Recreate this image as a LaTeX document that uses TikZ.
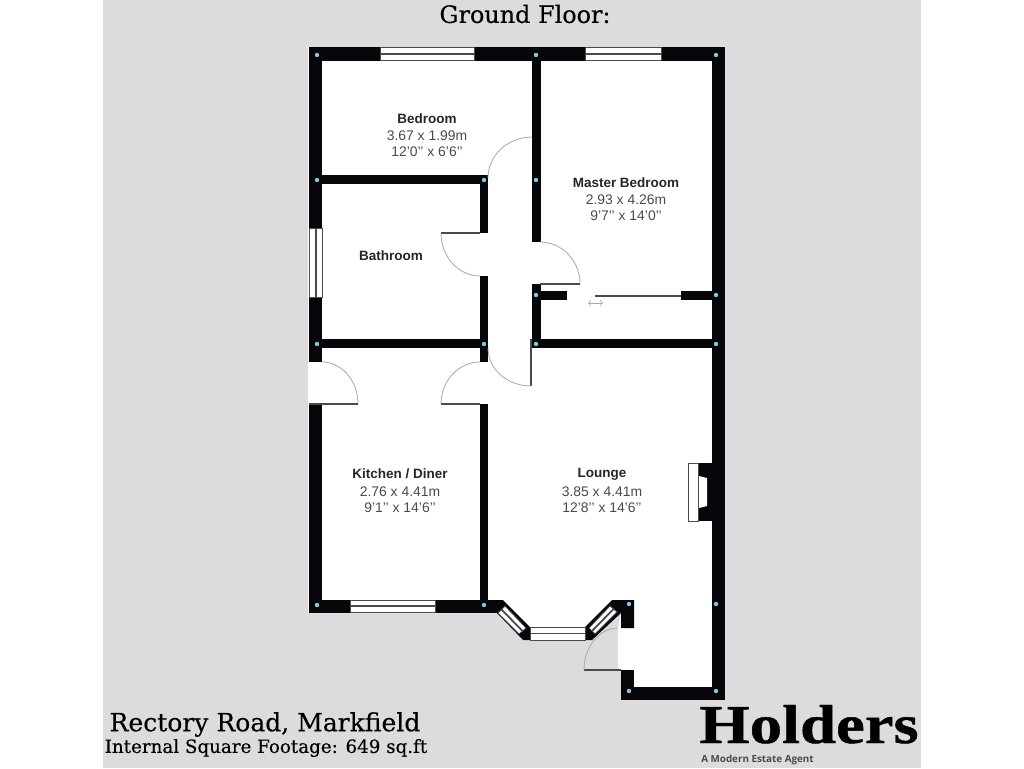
\documentclass[tikz,border=0pt]{standalone}
\usepackage{fontspec}
\setmainfont{Liberation Sans}
\newfontfamily\slabfont[FakeBold=0.35]{DejaVu Serif}
\newfontfamily\logofont[FakeStretch=1.18,FakeBold=0.8]{Liberation Serif Bold}
\newfontfamily\tagfont{Open Sans}
\usetikzlibrary{positioning}
\definecolor{pagegray}{HTML}{DEDBDF}
\definecolor{wallblack}{HTML}{05050A}
\definecolor{pillarblue}{HTML}{8CC4E0}
\definecolor{dimgray}{HTML}{4A4A4A}
\definecolor{arcgray}{HTML}{A8A8A8}
\tikzset{
  wall/.style={fill=wallblack,draw=none},
  doorarc/.style={draw=arcgray,line width=0.2mm},
  doorleaf/.style={draw=dimgray,line width=0.35mm},
  winglass/.style={fill=white,draw=dimgray,line width=0.2mm},
  winbar/.style={draw=dimgray,line width=0.45mm},
  roomname/.style={font=\fontsize{9.6}{11}\selectfont\bfseries,text=black!85,inner sep=0pt},
  roomsize/.style={font=\fontsize{9.9}{11}\selectfont,text=dimgray,inner sep=0pt},
}
\begin{document}
\begin{tikzpicture}[x=0.25mm,y=-0.25mm]
  \useasboundingbox (0,0) rectangle (1024,768);
  \fill[white] (0,0) rectangle (1024,768);
  \fill[pagegray] (103,0) rectangle (921,768);
  % floor
  \fill[white] (308,47) -- (725,47) -- (725,700) -- (621,700) -- (621,670) -- (618,670) -- (618,628)
    -- (621,613) -- (592,640) -- (523,640) -- (497,613) -- (308,613) -- cycle;
  % outer walls
  \fill[wall] (309,47) rectangle (725,60.5);
  \fill[wall] (309,47) rectangle (322,362);
  \fill[wall] (309,404) rectangle (322,613);
  \fill[wall] (712,47) rectangle (725,700);
  \fill[wall] (621,687) rectangle (725,700);
  \fill[wall] (621,670) rectangle (634,700);
  \fill[wall] (309,600) rectangle (503,613);
  % bay
  \fill[wall] (497,613) -- (503,600) -- (530,627) -- (585,627) -- (612,600) -- (634,600) -- (634,628) -- (621,628)
    -- (621,613) -- (592,640) -- (523,640) -- cycle;
  % inner walls
  \fill[wall] (532,60) rectangle (540.5,242);
  \fill[wall] (322,175) rectangle (488,184);
  \fill[wall] (480,175) rectangle (488,233);
  \fill[wall] (480,276) rectangle (488,362);
  \fill[wall] (480,404) rectangle (488,605);
  \fill[wall] (322,339) rectangle (488,348);
  \fill[wall] (532,339) rectangle (712,348);
  \fill[wall] (532,284) rectangle (540.5,348);
  \fill[wall] (540,290.5) rectangle (567,300);
  \fill[wall] (681,290.5) rectangle (712,300);
  % fireplace
  \fill[wall] (698,463) rectangle (712,521);
  \filldraw[winglass] (688,463) rectangle (698,521);
  \fill[white] (699,476) -- (707,478) -- (707,506) -- (699,508) -- cycle;
  % windows
  \filldraw[winglass] (380,47.5) rectangle (474,60.5);
  \draw[winbar] (380,54) -- (474,54);
  \filldraw[winglass] (585,47.5) rectangle (661,60.5);
  \draw[winbar] (585,54) -- (661,54);
  \filldraw[winglass] (350,600) rectangle (435,612.5);
  \draw[winbar] (350,606) -- (435,606);
  \filldraw[winglass] (309.5,228) rectangle (322,297);
  \draw[winbar] (316,228) -- (316,297);
  \filldraw[winglass] (530,627.5) rectangle (585,640);
  \draw[winbar] (530,633.5) -- (585,633.5);
  \filldraw[winglass] (505,606) -- (526,628) -- (519,634) -- (498,613) -- cycle;
  \draw[winbar] (501.5,609.5) -- (522.5,631);
  \filldraw[winglass] (610,606) -- (617,612) -- (595,634) -- (589,628) -- cycle;
  \draw[winbar] (613.5,609) -- (592,631);
  % doors
  \draw[doorarc] (532,137) arc[start angle=90,end angle=180,x radius=44,y radius=-41];
  \draw[doorleaf] (480,233) -- (441,233);
  \draw[doorarc] (441,233) arc[start angle=180,end angle=270,x radius=39,y radius=-43];
  \draw[doorarc] (540,242) arc[start angle=90,end angle=0,x radius=40,y radius=-42];
  \draw[doorleaf] (540,284) -- (580,284);
  \draw[doorleaf] (531,339) -- (531,386);
  \draw[doorarc] (531,386) arc[start angle=270,end angle=180,x radius=43,y radius=-38];
  \draw[doorarc] (480,362) arc[start angle=90,end angle=180,x radius=39,y radius=-42];
  \draw[doorleaf] (441,404) -- (480,404);
  \draw[doorarc] (322,362) arc[start angle=90,end angle=0,x radius=36,y radius=-42];
  \draw[doorleaf] (309,404) -- (358,404);
  \draw[doorleaf] (584,670) -- (621,670);
  \draw[doorarc] (584,670) arc[start angle=180,end angle=90,x radius=34,y radius=-42];
  % sliding door
  \draw[doorleaf] (595,296) -- (681,296);
  \draw[arcgray,line width=0.2mm,<->] (588,303) -- (603,303);
  % pillars
  \foreach \px/\py in {317/55,536/55,716/55,317/180,484/180,536/180,536/295,716/295,317/344,484/344,536/344,716/344,317/605,484/605,629/604,716/604,629/691,716/691}
    \fill[pillarblue] (\px,\py) circle (2.2);
  % rooms
  \node[roomname] (bedroom) at (427,118.5) {Bedroom};
  \node[roomsize] (bedroomm) at (427,135.5) {3.67 x 1.99m};
  \node[roomsize] (bedroomft) at (427,151.5) {12'0'{}' x 6'6'{}'};
  \node[roomname] (master) at (626,182.5) {Master Bedroom};
  \node[roomsize] (masterm) at (626,199.5) {2.93 x 4.26m};
  \node[roomsize] (masterft) at (626,215.5) {9'7'{}' x 14'0'{}'};
  \node[roomname] (bathroom) at (391,255.5) {Bathroom};
  \node[roomname] (kitchen) at (400,473.5) {Kitchen / Diner};
  \node[roomsize] (kitchenm) at (400,491.5) {2.76 x 4.41m};
  \node[roomsize] (kitchenft) at (400,507.5) {9'1'{}' x 14'6'{}'};
  \node[roomname] (lounge) at (602,474.5) {Lounge};
  \node[roomsize] (loungem) at (602,491.5) {3.85 x 4.41m};
  \node[roomsize] (loungeft) at (602,507.5) {12'8'{}' x 14'6'{}'};
  % titles
  \node[font=\slabfont\fontsize{17}{19}\selectfont,inner sep=0pt] (title) at (525,14) {Ground Floor:};
  \node[font=\slabfont\fontsize{17.8}{20}\selectfont,inner sep=0pt] (street) at (265,724.5) {Rectory Road, Markfield};
  \node[font=\slabfont\fontsize{13}{15}\selectfont,inner sep=0pt] (footage) at (266,748) {Internal Square Footage: 649 sq.ft};
  \node[font=\logofont\fontsize{39}{42}\selectfont,inner sep=0pt,anchor=base] (logo) at (809,743) {Holders};
  \node[font=\tagfont\fontsize{7}{8}\selectfont\bfseries,text=dimgray,inner sep=0pt] (tagline) at (757.5,760) {A Modern Estate Agent};
\end{tikzpicture}
\end{document}
